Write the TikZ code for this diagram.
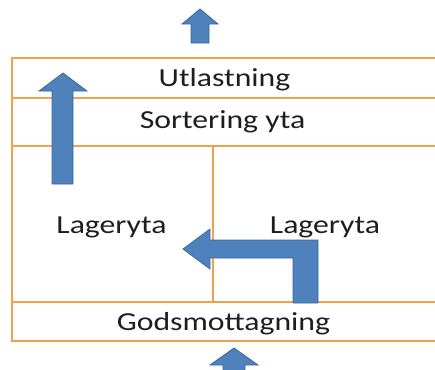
\documentclass[tikz,border=0pt]{standalone}
\usepackage{fontspec}
\setmainfont{Carlito}
\usetikzlibrary{positioning}
\definecolor{wallorange}{HTML}{F0A04E}
\definecolor{flowblue}{HTML}{4F81BD}
\definecolor{flowedge}{HTML}{3B679C}
\definecolor{labelgray}{HTML}{1E1E1E}
\tikzset{
  wall/.style={draw=wallorange, line width=2pt},
  flow/.style={fill=flowblue, draw=flowedge, line width=0.6pt, line join=miter},
  zone/.style={anchor=base, inner sep=0pt, text=labelgray, xscale=1.22, font=\fontsize{19.5}{23}\selectfont}
}

\begin{document}
\begin{tikzpicture}[x=0.75pt,y=-0.75pt]
        \useasboundingbox (0,0) rectangle (435,369);
        \clip (0,0) rectangle (435,369);

        % Vaggar och zoner
        \draw[wall] (440,58) -- (12,58) -- (12,341) -- (440,341);
        \draw[wall] (12,98) -- (440,98);
        \draw[wall] (12,146) -- (440,146);
        \draw[wall] (12,302) -- (440,302);
        \draw[wall] (213,146) -- (213,302);

        % Texter
        \node (utlast) [zone] at (224.5,86.7) {Utlastning};
        \node (sort) [zone] at (222.5,128.3) {Sortering yta};
        \node (lagerV) [zone] at (111.5,233) {Lageryta};
        \node (lagerH) [zone] at (325,233) {Lageryta};
        \node (godsmott) [zone] at (223.5,330) {Godsmottagning};

        % Flodespilar
        \draw[flow] (200,9) -- (218,24) -- (209,24) -- (209,43) -- (191,43) -- (191,24) -- (182,24) -- cycle;
        \draw[flow] (63,73) -- (87,91) -- (73,91) -- (73,184) -- (52,184) -- (52,91) -- (39,91) -- cycle;
        \draw[flow] (183,249) -- (210,229) -- (210,240) -- (318,240) -- (318,303) -- (293,303) -- (293,258) -- (210,258) -- (210,269) -- cycle;
        \draw[flow] (234,348) -- (258,365) -- (245,365) -- (245,380) -- (223,380) -- (223,365) -- (210,365) -- cycle;

\end{tikzpicture}
\end{document}
